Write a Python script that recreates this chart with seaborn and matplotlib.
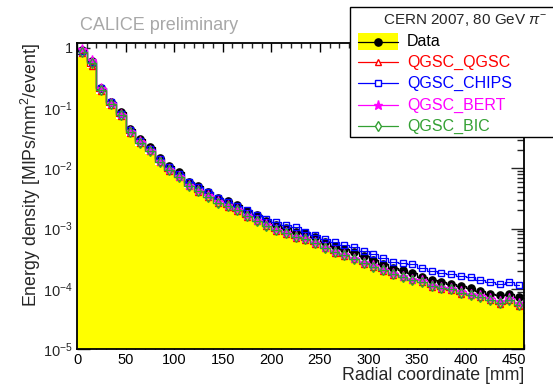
import numpy as np
import pandas as pd
import matplotlib
matplotlib.use("Agg")
import matplotlib.pyplot as plt
import matplotlib.transforms as mtransforms
from matplotlib.lines import Line2D
from matplotlib.patches import Rectangle
from matplotlib.ticker import FuncFormatter, LogLocator, MultipleLocator, NullFormatter
import seaborn as sns

# 10 mm radial rings from 0 to 460 mm
bin_edges = np.arange(0, 461, 10)
radius_mm = bin_edges[:-1] + 5

data = [0.912, 0.603, 0.219, 0.129, 0.0851, 0.0447, 0.0302, 0.0224, 0.0148, 0.0110,
        0.00871, 0.00603, 0.00501, 0.00407, 0.00324, 0.00282, 0.00245, 0.00195, 0.00166, 0.00135,
        0.00115, 0.00102, 8.91e-4, 8.32e-4, 7.24e-4, 6.03e-4, 5.13e-4, 4.57e-4, 4.07e-4, 3.47e-4,
        3.02e-4, 2.63e-4, 2.24e-4, 2.04e-4, 1.86e-4, 1.58e-4, 1.41e-4, 1.29e-4, 1.20e-4, 1.12e-4,
        1.02e-4, 9.12e-5, 8.13e-5, 7.76e-5, 8.32e-5, 7.41e-5]
data_sys_rel = 0.22  # relative systematic uncertainty on the data

qgsc_qgsc = [0.813, 0.501, 0.195, 0.115, 0.0741, 0.0389, 0.0263, 0.0191, 0.0126, 0.00912,
             0.00708, 0.00501, 0.00407, 0.00331, 0.00263, 0.00229, 0.00195, 0.00158, 0.00132, 0.00110,
             9.12e-4, 8.13e-4, 7.08e-4, 6.46e-4, 5.62e-4, 4.68e-4, 3.98e-4, 3.55e-4, 3.09e-4, 2.63e-4,
             2.29e-4, 2.00e-4, 1.70e-4, 1.55e-4, 1.38e-4, 1.29e-4, 1.07e-4, 1.00e-4, 9.55e-5, 8.32e-5,
             7.76e-5, 7.24e-5, 6.46e-5, 5.62e-5, 6.46e-5, 5.25e-5]

qgsc_chips = [0.891, 0.575, 0.219, 0.126, 0.0813, 0.0427, 0.0288, 0.0209, 0.0141, 0.0105,
              0.00813, 0.00603, 0.00490, 0.00398, 0.00324, 0.00275, 0.00240, 0.00200, 0.00170, 0.00145,
              0.00129, 0.00115, 0.00105, 8.91e-4, 7.94e-4, 6.61e-4, 5.89e-4, 5.25e-4, 5.01e-4, 4.27e-4,
              3.72e-4, 3.31e-4, 2.82e-4, 2.69e-4, 2.63e-4, 2.24e-4, 2.00e-4, 1.86e-4, 1.78e-4, 1.66e-4,
              1.55e-4, 1.41e-4, 1.29e-4, 1.20e-4, 1.29e-4, 1.15e-4]

qgsc_bert = [0.955, 0.631, 0.214, 0.123, 0.0794, 0.0417, 0.0282, 0.0200, 0.0135, 0.00977,
             0.00759, 0.00537, 0.00437, 0.00355, 0.00282, 0.00245, 0.00209, 0.00170, 0.00141, 0.00117,
             9.77e-4, 8.71e-4, 7.59e-4, 6.92e-4, 6.03e-4, 5.01e-4, 4.27e-4, 3.80e-4, 3.31e-4, 2.82e-4,
             2.45e-4, 2.14e-4, 1.86e-4, 1.66e-4, 1.48e-4, 1.38e-4, 1.17e-4, 1.07e-4, 1.02e-4, 9.12e-5,
             8.32e-5, 7.76e-5, 6.92e-5, 6.17e-5, 6.92e-5, 5.75e-5]

qgsc_bic = [0.851, 0.562, 0.200, 0.117, 0.0759, 0.0398, 0.0269, 0.0195, 0.0129, 0.00933,
            0.00724, 0.00513, 0.00417, 0.00339, 0.00269, 0.00234, 0.00200, 0.00162, 0.00135, 0.00112,
            9.33e-4, 8.32e-4, 7.24e-4, 6.61e-4, 5.75e-4, 4.79e-4, 4.07e-4, 3.63e-4, 3.16e-4, 2.69e-4,
            2.34e-4, 2.04e-4, 1.74e-4, 1.58e-4, 1.41e-4, 1.32e-4, 1.10e-4, 1.02e-4, 9.77e-5, 8.51e-5,
            7.94e-5, 7.41e-5, 6.61e-5, 5.75e-5, 6.61e-5, 5.37e-5]

series_labels = ["Data", "QGSC_QGSC", "QGSC_CHIPS", "QGSC_BERT", "QGSC_BIC"]

sns.set_style("ticks")
plt.rcParams["font.family"] = ["Liberation Sans", "DejaVu Sans"]
plt.rcParams["mathtext.fontset"] = "custom"
plt.rcParams["mathtext.rm"] = "Liberation Sans"
plt.rcParams["mathtext.it"] = "Liberation Sans:italic"
plt.rcParams["mathtext.default"] = "regular"

W, H = 553, 384
def fx(px):
    return px / W
def fy(py):
    return 1 - py / H

fig = plt.figure(figsize=(W / 100, H / 100), dpi=100)
ax = fig.add_axes([fx(77), fy(349), fx(524) - fx(77), fy(43) - fy(349)])
ax.set_yscale("log")
ax.set_xlim(0, 460)
ax.set_ylim(1e-5, 1.21)

# yellow data band, filled from the bottom of the plot
yellow = "#ffff00"
ax.stairs(np.array(data) * (1 - data_sys_rel), bin_edges, baseline=1e-7,
          fill=True, color=yellow, lw=0, zorder=1)

styles = [
    # values, colour, marker, face, size, zorder
    (data, "black", "o", "black", 5.2, 3),
    (qgsc_qgsc, "#ff0000", "^", "none", 5.0, 4),
    (qgsc_chips, "#0000ff", "s", "none", 5.0, 5),
    (qgsc_bert, "#ff00ff", "*", "#ff00ff", 6.5, 6),
    (qgsc_bic, "#33a033", "d", "none", 5.0, 7),
]

for (vals, col, mk, face, ms, z), lab in zip(styles, series_labels):
    df = pd.DataFrame({"radius": radius_mm, "energy": vals})
    sns.lineplot(data=df, x="radius", y="energy", ax=ax, color=col,
                 drawstyle="steps-mid", lw=0.9, marker=mk, markersize=ms,
                 markerfacecolor=face, markeredgecolor=col, markeredgewidth=1.0,
                 zorder=z, legend=False, errorbar=None)

# ROOT-like frame and ticks
for sp in ax.spines.values():
    sp.set_linewidth(1.3)
    sp.set_color("black")
    sp.set_zorder(8)

ax.xaxis.set_major_locator(MultipleLocator(50))
ax.xaxis.set_minor_locator(MultipleLocator(10))
ax.yaxis.set_major_locator(LogLocator(base=10, numticks=10))
ax.yaxis.set_minor_locator(LogLocator(base=10, subs=np.arange(2, 10), numticks=20))
ax.yaxis.set_minor_formatter(NullFormatter())

def ylab(v, pos):
    e = int(round(np.log10(v)))
    return "1" if e == 0 else r"$10^{%d}$" % e

ax.yaxis.set_major_formatter(FuncFormatter(ylab))
ax.tick_params(axis="x", which="major", direction="in", length=6.5, width=1.0,
               top=True, bottom=True, labelsize=10.5, pad=3, colors="black")
ax.tick_params(axis="x", which="minor", direction="in", length=3.3, width=1.0,
               top=True, bottom=True)
ax.tick_params(axis="y", which="major", direction="in", length=9.5, width=1.0,
               left=True, right=True, labelsize=10.5, pad=3)
ax.tick_params(axis="y", which="minor", direction="in", length=4.8, width=1.0,
               left=True, right=True)

ax.set_xlabel("Radial coordinate [mm]", fontsize=12.8, loc="right", labelpad=0)
ax.set_ylabel("Energy density [MIPs/mm$^2$/event]", fontsize=12.8, loc="top")
ax.yaxis.set_label_coords(0, 1.0)
ax.yaxis.label.set_transform(mtransforms.blended_transform_factory(
    fig.transFigure, ax.transAxes))
ax.yaxis.label.set_position((fx(43), 1.0))
ax.grid(False)

fig.text(fx(80), fy(26), "CALICE preliminary", fontsize=13, color="#a8a8a8",
         ha="left", va="center")

# legend box (extends past the right edge of the canvas)
fig.add_artist(Rectangle((fx(350), fy(137)), fx(590) - fx(350), fy(7) - fy(137),
                         transform=fig.transFigure, facecolor="white",
                         edgecolor="black", lw=1.0, zorder=20, clip_on=False))
fig.text(fx(465), fy(20), r"CERN 2007, 80 GeV $\it{\pi}^{-}$", fontsize=11,
         ha="center", va="center", zorder=21)

entry_y = [42, 62, 83, 105, 126]
for (vals, col, mk, face, ms, z), lab, py in zip(styles, series_labels, entry_y):
    if lab == "Data":
        fig.add_artist(Rectangle((fx(358), fy(50)), fx(398) - fx(358), fy(33) - fy(50),
                                 transform=fig.transFigure, facecolor=yellow,
                                 edgecolor="none", zorder=21))
    fig.add_artist(Line2D([fx(358), fx(398)], [fy(py), fy(py)], transform=fig.transFigure,
                          color=col, lw=0.9, zorder=22))
    fig.add_artist(Line2D([fx(378)], [fy(py)], transform=fig.transFigure, color=col,
                          marker=mk, markersize=ms, markerfacecolor=face if face != "none" else "white",
                          markeredgecolor=col, markeredgewidth=1.0, zorder=23))
    fig.text(fx(407), fy(py), lab, fontsize=11.5, color=col, ha="left", va="center", zorder=23)

fig.savefig("out.png", dpi=100)
